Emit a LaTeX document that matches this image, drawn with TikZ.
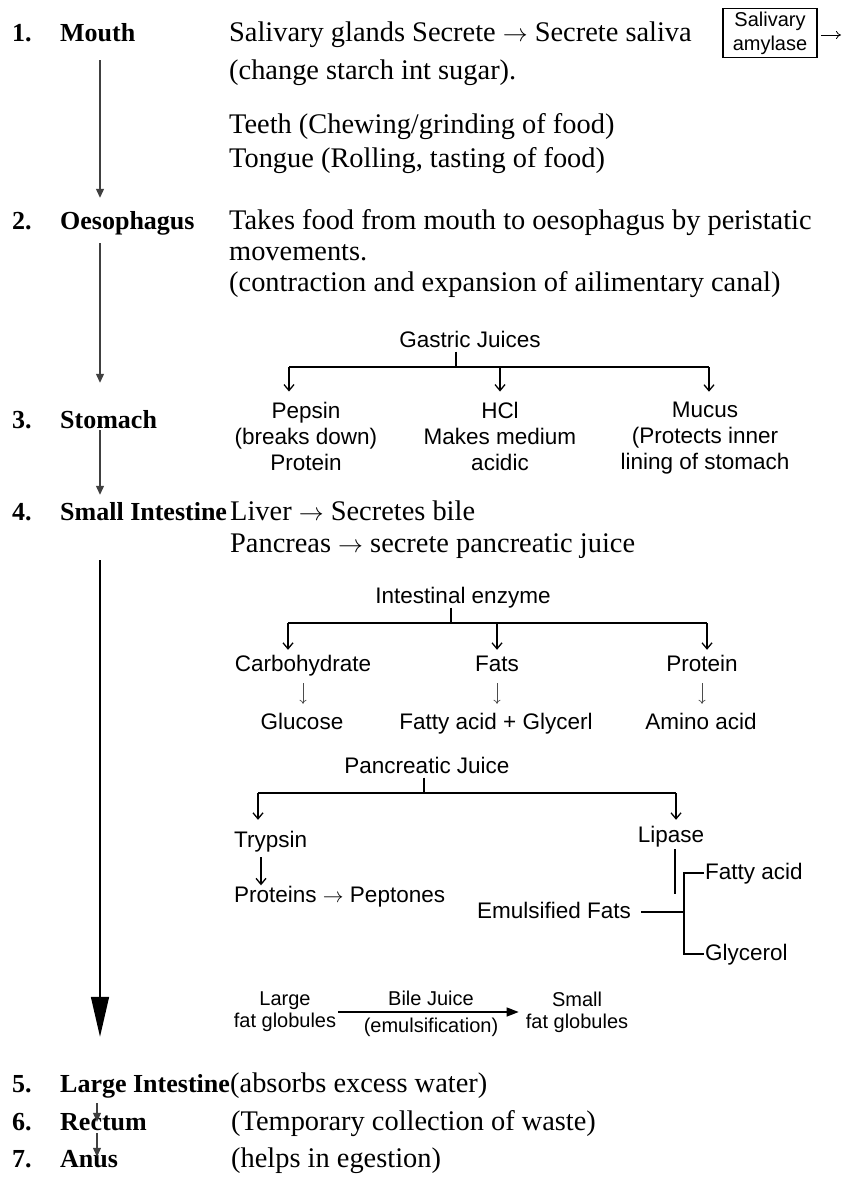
\documentclass[tikz,border=0pt]{standalone}
\usepackage{fontspec}
\setmainfont{Liberation Serif}
\setsansfont{Liberation Sans}
\usetikzlibrary{arrows.meta}

\begin{document}
\begin{tikzpicture}[x=1pt,y=-1pt]
  \tikzset{
    stage/.style={anchor=base west, inner sep=0pt, text height=18pt, text depth=6pt,
      font=\fontsize{26}{31}\selectfont\bfseries},
    desc/.style={anchor=base west, inner sep=0pt, font=\fontsize{28.4}{33}\selectfont},
    part/.style={inner sep=0pt, text height=16.5pt, text depth=4.5pt,
      font=\fontsize{22.5}{26}\sffamily\selectfont},
    partmulti/.style={inner sep=0pt, align=center, font=\fontsize{22.5}{26}\sffamily\selectfont},
    globule/.style={inner sep=0pt, align=center, font=\fontsize{20}{22}\sffamily\selectfont},
    flow/.style={-{Triangle[length=9pt,width=8pt]}, line width=1.2pt, black!75},
    thinflow/.style={-{To[length=4pt,width=7pt]}, line width=0.7pt, black!70},
    branch/.style={-{Straight Barb[length=6pt,width=10pt]}, line width=1.3pt},
    bar/.style={line width=1.3pt},
    stem/.style={line width=2.6pt},
  }
  \useasboundingbox (0,0) rectangle (843,1180);

  % stages of the canal
  \foreach \n/\name/\y in {1/Mouth/42, 2/Oesophagus/229, 3/Stomach/428,
      4/Small Intestine/520, 5/Large Intestine/1092, 6/Rectum/1130, 7/Anus/1167} {
    \node [stage] (Num\n) at (12,\y) {\n.};
    \node [stage] (Stage\n) at (60,\y) {\name};
  }
  \foreach \a/\b/\s/\e/\dx in {1/2/12/13/40, 2/3/8/27/40, 3/4/-4/7/40, 5/6/5/-10/37, 6/7/-3/-8/37} {
    \draw [flow, shorten <=\s pt, shorten >=\e pt]
      ([xshift=\dx pt]Stage\a.south west) -- ([xshift=\dx pt]Stage\b.north west);
  }
  \draw [line width=1.5pt, -{Triangle[length=40pt,width=18pt]}, shorten <=34pt, shorten >=37pt]
    ([xshift=40pt]Stage4.south west) -- ([xshift=40pt]Stage5.north west);

  % mouth
  \node [desc] (Saliva) at (229,42) {Salivary glands Secrete $\rightarrow$ Secrete saliva};
  \node [draw, line width=1.8pt, inner sep=0pt, minimum width=94pt, minimum height=49pt,
    align=center, font=\fontsize{20}{24}\sffamily\selectfont] (Amylase) at (770,33) {Salivary\\amylase};
  \coordinate (AmylaseOut) at (841,35);
  \draw [-{To[length=5pt,width=8pt]}, line width=0.8pt, shorten <=3pt] (Amylase.east |- AmylaseOut) -- (AmylaseOut);
  \node [desc] (Starch) at (229,80) {(change starch int sugar).};
  \node [desc] (Teeth) at (229,134) {Teeth (Chewing/grinding of food)};
  \node [desc] (Tongue) at (229,167) {Tongue (Rolling, tasting of food)};

  % oesophagus
  \node [desc] (Peristalsis) at (229,229) {Takes food from mouth to oesophagus by peristatic};
  \node [desc] (Movements) at (229,260) {movements.};
  \node [desc] (Canal) at (229,291) {(contraction and expansion of ailimentary canal)};

  % stomach
  \node [part] (Gastric) at (470,341) {Gastric Juices};
  \node [partmulti] (Pepsin) at (306,436) {Pepsin\\(breaks down)\\Protein};
  \node [partmulti] (HCl) at (500,436) {HCl\\Makes medium\\acidic};
  \node [partmulti] (Mucus) at (705,438) {Mucus\\(Protects inner\\lining of stomach};
  \coordinate (GastricBar) at (456,367);
  \draw [stem] (Gastric.south -| GastricBar) -- (GastricBar);
  \draw [bar] ([xshift=-17pt]Pepsin.north |- GastricBar) -- ([xshift=4pt]Mucus.north |- GastricBar);
  \foreach \c/\dx in {Pepsin/-17, HCl/0, Mucus/4}
    \draw [branch, shorten >=10pt] ([xshift=\dx pt]\c.north |- GastricBar) -- ([xshift=\dx pt]\c.north);

  % small intestine
  \node [desc] (Liver) at (230,520) {Liver $\rightarrow$ Secretes bile};
  \node [desc] (Pancreas) at (230,552) {Pancreas $\rightarrow$ secrete pancreatic juice};

  \node [part] (Enzyme) at (463,597) {Intestinal enzyme};
  \node [part] (Carb) at (303,665) {Carbohydrate};
  \node [part] (Fats) at (497,665) {Fats};
  \node [part] (Protein) at (702,665) {Protein};
  \node [part] (Glucose) at (302,723) {Glucose};
  \node [part] (FattyGly) at (496,723) {Fatty acid + Glycerl};
  \node [part] (Amino) at (701,723) {Amino acid};
  \coordinate (EnzymeBar) at (451,623);
  \draw [stem] (Enzyme.south -| EnzymeBar) -- (EnzymeBar);
  \draw [bar] ([xshift=-15pt]Carb.north |- EnzymeBar) -- ([xshift=5pt]Protein.north |- EnzymeBar);
  \foreach \c/\dx in {Carb/-15, Fats/0, Protein/5}
    \draw [branch, shorten >=4.5pt] ([xshift=\dx pt]\c.north |- EnzymeBar) -- ([xshift=\dx pt]\c.north);
  \foreach \a/\b in {Carb/Glucose, Fats/FattyGly, Protein/Amino}
    \draw [thinflow, shorten <=7.5pt, shorten >=8.5pt] (\a.south) -- (\a.south |- \b.north);

  \node [part] (Pancreatic) at (427,767) {Pancreatic Juice};
  \node [part, anchor=west] (Trypsin) at (234,841) {Trypsin};
  \node [part] (Lipase) at (671,836) {Lipase};
  \node [part, anchor=west] (Proteins) at (234,896) {Proteins $\rightarrow$ Peptones};
  \coordinate (PancBar) at (424,793);
  \coordinate (PancLeft) at (258,793);
  \coordinate (PancRight) at (676,793);
  \draw [stem] (Pancreatic.south -| PancBar) -- (PancBar);
  \draw [bar] (PancLeft) -- (PancRight);
  \draw [branch, shorten >=10.5pt] (PancLeft) -- (PancLeft |- Trypsin.north);
  \draw [branch, shorten >=5.5pt] (PancRight) -- (PancRight |- Lipase.north);
  \draw [branch, shorten <=5.5pt] ([xshift=27pt]Trypsin.south west) -- ([xshift=27pt]Proteins.north west);

  \node [part] (Emulsified) at (554,912) {Emulsified Fats};
  \node [part, anchor=west, inner sep=1pt] (FattyAcid) at (704,873) {Fatty acid};
  \node [part, anchor=west, inner sep=1pt] (Glycerol) at (704,954) {Glycerol};
  \coordinate (LipaseEnd) at (675,894);
  \coordinate (Fork) at (684,912);
  \draw [stem, shorten <=2.5pt] (Lipase.south -| LipaseEnd) -- (LipaseEnd);
  \draw [stem, shorten <=10pt] (Emulsified.east) -- (Fork);
  \draw [bar] (FattyAcid.west) -| (Fork) |- (Glycerol.west);

  \node [globule] (LargeFat) at (285,1012) {Large\\fat globules};
  \node [globule] (SmallFat) at (577,1012) {Small\\fat globules};
  \draw [-{Triangle[length=12pt,width=9pt]}, line width=1.3pt, shorten <=2pt, shorten >=7pt]
    (LargeFat.east) -- (SmallFat.west)
    node [midway, above, inner sep=6pt, font=\fontsize{20}{22}\sffamily\selectfont] {Bile Juice}
    node [midway, below, inner sep=5pt, font=\fontsize{20}{22}\sffamily\selectfont] {(emulsification)};

  % last stages
  \node [desc] (Water) at (230,1092) {(absorbs excess water)};
  \node [desc] (Waste) at (231,1130) {(Temporary collection of waste)};
  \node [desc] (Egestion) at (231,1167) {(helps in egestion)};
\end{tikzpicture}
\end{document}
